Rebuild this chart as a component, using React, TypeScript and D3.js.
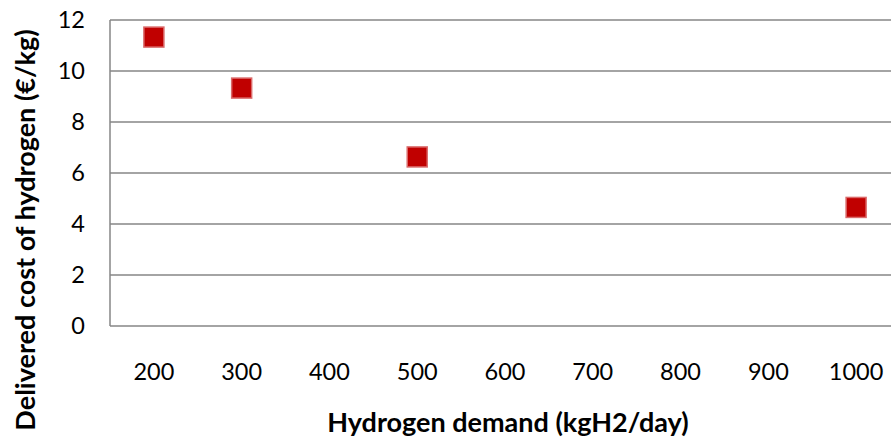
import React, { useEffect, useRef } from 'react';
import * as d3 from 'd3';

const categories = ['200', '300', '400', '500', '600', '700', '800', '900', '1000'];
const pointCategories = ['200', '300', '500', '1000'];
const costValues = [11.33, 9.33, 6.63, 4.65];
const yTicks = [0, 2, 4, 6, 8, 10, 12];

const App: React.FC = () => {
  const svgRef = useRef<SVGSVGElement>(null);

  useEffect(() => {
    if (!svgRef.current) return;
    const width = 891;
    const height = 439;
    const margin = { top: 20, right: -9, bottom: 113, left: 110 };

    const svg = d3.select(svgRef.current);
    svg.selectAll('*').remove();

    svg.append('rect').attr('width', width).attr('height', height).style('fill', 'white');

    const x = d3.scaleBand<string>()
      .domain(categories)
      .range([margin.left, width - margin.right]);
    const y = d3.scaleLinear().domain([0, 12]).range([height - margin.bottom, margin.top]);

    const font = 'Lato, "Open Sans", sans-serif';

    // horizontal gridlines
    svg.append('g')
      .selectAll('line')
      .data(yTicks)
      .enter().append('line')
      .attr('x1', margin.left)
      .attr('x2', width)
      .attr('y1', d => y(d))
      .attr('y2', d => y(d))
      .style('stroke', '#868686')
      .style('stroke-width', 1.5);

    // left axis line
    svg.append('line')
      .attr('x1', margin.left).attr('x2', margin.left)
      .attr('y1', y(12)).attr('y2', y(0))
      .style('stroke', '#868686')
      .style('stroke-width', 1.5);

    // y tick labels
    svg.append('g')
      .selectAll('text')
      .data(yTicks)
      .enter().append('text')
      .attr('x', 85)
      .attr('y', d => y(d))
      .attr('dy', '.35em')
      .style('text-anchor', 'end')
      .style('font-family', font)
      .style('font-size', '23.5px')
      .style('fill', 'black')
      .text(d => d);

    // x tick labels
    svg.append('g')
      .selectAll('text')
      .data(categories)
      .enter().append('text')
      .attr('x', d => x(d)! + x.bandwidth() / 2)
      .attr('y', 372)
      .attr('dy', '.35em')
      .style('text-anchor', 'middle')
      .style('font-family', font)
      .style('font-size', '23.5px')
      .style('fill', 'black')
      .text(d => d);

    // points
    const size = 20;
    svg.append('g')
      .selectAll('rect')
      .data(pointCategories.map((c, i) => ({ c, v: costValues[i] })))
      .enter().append('rect')
      .attr('x', d => x(d.c)! + x.bandwidth() / 2 - size / 2)
      .attr('y', d => y(d.v) - size / 2)
      .attr('width', size)
      .attr('height', size)
      .style('fill', '#C00000')
      .style('stroke', '#DA6A6A')
      .style('stroke-width', 1.5);

    // axis titles
    svg.append('text')
      .attr('x', 508)
      .attr('y', 423)
      .attr('dy', '.35em')
      .style('text-anchor', 'middle')
      .style('font-family', font)
      .style('font-weight', 'bold')
      .style('font-size', '27px')
      .style('fill', 'black')
      .text('Hydrogen demand (kgH2/day)');

    svg.append('text')
      .attr('transform', 'translate(26,230) rotate(-90)')
      .attr('dy', '.35em')
      .style('text-anchor', 'middle')
      .style('font-family', font)
      .style('font-weight', 'bold')
      .style('font-size', '27px')
      .style('fill', 'black')
      .text('Delivered cost of hydrogen (€/kg)');
  }, []);

  return (
    <svg ref={svgRef} width={891} height={439}
      style={{ position: 'absolute', left: 0, top: 0, display: 'block' }} />
  );
};

export default App;
